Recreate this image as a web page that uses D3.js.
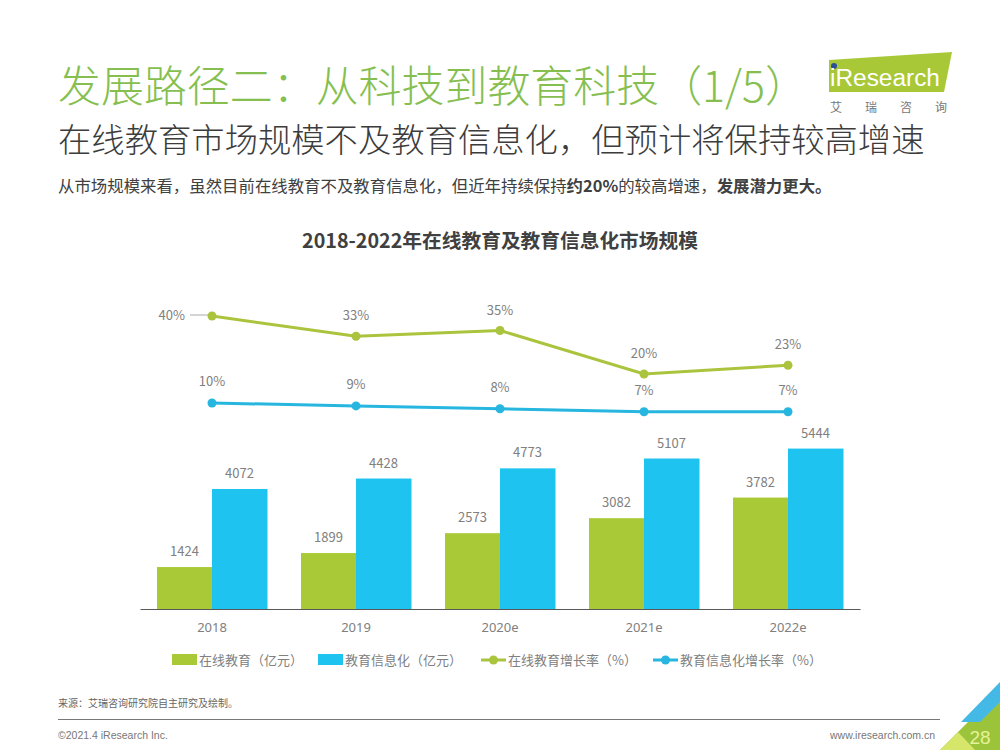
<!DOCTYPE html>
<html><head><meta charset="utf-8">
<script src="https://cdn.jsdelivr.net/npm/d3@7"></script>
<style>
html,body{margin:0;padding:0;background:#fff;}
svg{display:block;font-family:"Noto Sans CJK SC","Noto Sans",sans-serif;}
</style></head>
<body>
<svg id="c" width="1000" height="750"></svg>
<script>
const years = ["2018","2019","2020e","2021e","2022e"];
const onlineEdu = [1424,1899,2573,3082,3782];
const eduInfo = [4072,4428,4773,5107,5444];
const onlineGrowth = [40,33,35,20,23];
const infoGrowth = [10,9,8,7,7];
const seriesNames = ["在线教育（亿元）","教育信息化（亿元）","在线教育增长率（%）","教育信息化增长率（%）"];

const GREEN = "#a9ca36", BLUE = "#1ec3ef", LGREEN = "#aac43e", LBLUE = "#26b6e0";
const LABEL = "#808080";

const svg = d3.select("#c");

function fit(sel, w){
  const len = sel.node().getComputedTextLength();
  const fs = parseFloat(sel.attr("font-size"));
  sel.attr("font-size", fs * w / len);
  return sel;
}

// Header
fit(svg.append("text").attr("x",58).attr("y",102).attr("font-size",44).attr("fill","#86bf50")
  .attr("font-weight",300).text("发展路径二：从科技到教育科技（1/5）"), 750);
fit(svg.append("text").attr("x",58).attr("y",152).attr("font-size",33).attr("fill","#3c3c3c")
  .attr("font-weight",300).text("在线教育市场规模不及教育信息化，但预计将保持较高增速"), 867);
const desc = svg.append("text").attr("x",58).attr("y",192).attr("font-size",15).attr("fill","#404040");
desc.append("tspan").text("从市场规模来看，虽然目前在线教育不及教育信息化，但近年持续保持");
desc.append("tspan").attr("font-weight","bold").text("约20%");
desc.append("tspan").text("的较高增速，");
desc.append("tspan").attr("font-weight","bold").text("发展潜力更大。");
fit(desc, 774);

// logo
const logo = svg.append("g");
logo.append("path").attr("d","M829,60 L952,52 L944,92 L829,92 Z").attr("fill","#a8c838");
logo.append("circle").attr("cx",834).attr("cy",66).attr("r",3).attr("fill","#2a4f9a");
fit(logo.append("text").attr("x",830).attr("y",86).attr("font-size",23).attr("fill","#fff")
  .attr("font-family","Liberation Sans Narrow, Liberation Sans, sans-serif").text("iResearch"), 110);
logo.append("text").attr("x",830).attr("y",112).attr("font-size",12).attr("fill","#777")
  .attr("letter-spacing",23).text("艾瑞咨询");

// chart title
fit(svg.append("text").attr("x",500).attr("y",248).attr("text-anchor","middle").attr("font-size",17)
  .attr("font-weight","bold").attr("fill","#404040").text("2018-2022年在线教育及教育信息化市场规模"), 396);

// scales
const x0 = d3.scaleBand().domain(years).range([140,860]).paddingInner(34/144).paddingOuter(17/144);
const x1 = d3.scaleBand().domain([0,1]).range([0,x0.bandwidth()]);
const y = d3.scaleLinear().domain([0,6000]).range([609,432.2]);
const y2 = d3.scaleLinear().domain([0,40]).range([432,316]);

const data = years.map((yr,i)=>({yr, vals:[onlineEdu[i],eduInfo[i]], g1:onlineGrowth[i], g2:infoGrowth[i]}));
const colors = [GREEN, BLUE];

const groups = svg.append("g").selectAll("g").data(data).join("g")
  .attr("transform", d=>`translate(${x0(d.yr)},0)`);
groups.selectAll("rect").data(d=>d.vals.map((v,k)=>({v,k}))).join("rect")
  .attr("x", d=>x1(d.k)).attr("width", x1.bandwidth()+0.5)
  .attr("y", d=>y(d.v)).attr("height", d=>y(0)-y(d.v)).attr("fill", d=>colors[d.k]);
groups.selectAll("text.v").data(d=>d.vals.map((v,k)=>({v,k}))).join("text").attr("class","v")
  .attr("x", d=>x1(d.k)+x1.bandwidth()/2).attr("y", d=>y(d.v)-11)
  .attr("text-anchor","middle").attr("font-size",13).attr("fill",LABEL).text(d=>d.v);

// x axis
const xAxis = svg.append("g").attr("transform","translate(0,609)")
  .call(d3.axisBottom(x0).tickSize(0).tickPadding(14));
xAxis.select(".domain").attr("stroke","#595959").attr("stroke-width",1.2);
xAxis.selectAll("text").attr("font-size",13).attr("fill",LABEL)
  .attr("font-family","'Noto Sans',sans-serif");

// lines
const cx = d=>x0(d.yr)+x0.bandwidth()/2;
const lineG = d3.line().x(cx).y(d=>y2(d.g1));
const lineB = d3.line().x(cx).y(d=>y2(d.g2));
svg.append("path").datum(data).attr("d",lineG).attr("fill","none").attr("stroke",LGREEN).attr("stroke-width",3);
svg.append("path").datum(data).attr("d",lineB).attr("fill","none").attr("stroke",LBLUE).attr("stroke-width",3);
svg.append("g").selectAll("circle").data(data).join("circle").attr("cx",cx).attr("cy",d=>y2(d.g1)).attr("r",4.5).attr("fill",LGREEN);
svg.append("g").selectAll("circle").data(data).join("circle").attr("cx",cx).attr("cy",d=>y2(d.g2)).attr("r",4.5).attr("fill",LBLUE);

// growth labels
svg.append("line").attr("x1",x0(years[0])+x0.bandwidth()/2-22).attr("x2",x0(years[0])+x0.bandwidth()/2-4)
  .attr("y1",y2(onlineGrowth[0])-1).attr("y2",y2(onlineGrowth[0])-1).attr("stroke","#aaa").attr("stroke-width",1);
svg.append("g").selectAll("text").data(data).join("text")
  .attr("x",(d,i)=> i===0 ? cx(d)-27 : cx(d))
  .attr("y",(d,i)=> i===0 ? y2(d.g1)+4 : y2(d.g1)-16)
  .attr("text-anchor",(d,i)=> i===0 ? "end" : "middle")
  .attr("font-size",13).attr("fill",LABEL).text(d=>d.g1+"%");
svg.append("g").selectAll("text").data(data).join("text")
  .attr("x",cx).attr("y",d=>y2(d.g2)-17).attr("text-anchor","middle")
  .attr("font-size",13).attr("fill",LABEL).text(d=>d.g2+"%");

// legend
const legItems = [
  {x:172, type:"rect", c:GREEN},
  {x:318, type:"rect", c:BLUE},
  {x:481, type:"line", c:LGREEN},
  {x:653, type:"line", c:LBLUE}
];
const leg = svg.append("g").selectAll("g").data(legItems).join("g").attr("transform",d=>`translate(${d.x},660)`);
leg.filter(d=>d.type==="rect").append("rect").attr("x",0).attr("y",-6).attr("width",25).attr("height",11).attr("fill",d=>d.c);
leg.filter(d=>d.type==="line").append("line").attr("x1",0).attr("x2",25).attr("y1",0).attr("y2",0).attr("stroke",d=>d.c).attr("stroke-width",3);
leg.filter(d=>d.type==="line").append("circle").attr("cx",12.5).attr("cy",0).attr("r",4.5).attr("fill",d=>d.c);
leg.append("text").attr("x",27).attr("y",5).attr("font-size",13).attr("fill",LABEL).text((d,i)=>seriesNames[i]);

// footer
svg.append("text").attr("x",58).attr("y",707).attr("font-size",10).attr("fill","#666").text("来源：艾瑞咨询研究院自主研究及绘制。");
svg.append("line").attr("x1",58).attr("x2",940).attr("y1",719.5).attr("y2",719.5).attr("stroke","#777").attr("stroke-width",1);
svg.append("text").attr("x",58).attr("y",739).attr("font-size",10.5).attr("fill","#777").attr("font-family","'Liberation Sans',sans-serif").text("©2021.4 iResearch Inc.");
svg.append("text").attr("x",935).attr("y",739).attr("text-anchor","end").attr("font-size",10.5).attr("fill","#777").attr("font-family","'Liberation Sans',sans-serif").text("www.iresearch.com.cn");

// corner decoration
svg.append("path").attr("d","M940,750 L1000,690 L1000,750 Z").attr("fill","#9cc43a");
svg.append("path").attr("d","M961,722 L1000,682 L1000,702 L980,722 Z").attr("fill","#45b9e6");
svg.append("path").attr("d","M940,750 L958,732 L975,750 Z").attr("fill","#d6e66a");
svg.append("text").attr("x",980).attr("y",744).attr("text-anchor","middle").attr("font-size",19).attr("fill","#e6f29a")
  .attr("font-family","'Liberation Sans',sans-serif").text("28");
</script>
</body></html>
